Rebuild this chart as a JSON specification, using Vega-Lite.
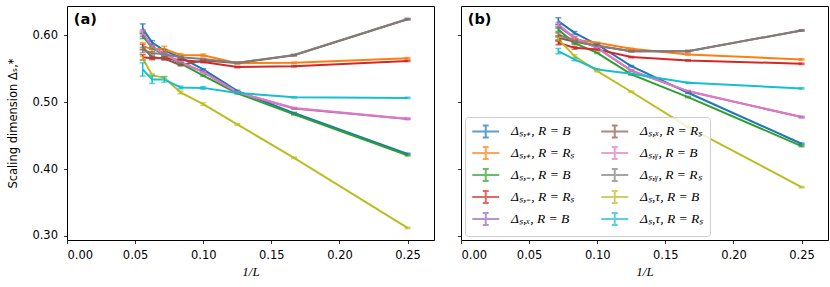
{
  "$schema": "https://vega.github.io/schema/vega-lite/v6.json",
  "padding": {"left": 7, "top": 5, "right": 2, "bottom": 3},
  "config": {
    "font": "DejaVu Sans",
    "view": {"stroke": "#000000", "strokeWidth": 1},
    "axis": {"grid": false, "domain": false, "tickColor": "#000000", "tickSize": 3.5, "tickWidth": 0.8, "labelColor": "#000000", "labelFontSize": 11.5, "labelFont": "DejaVu Sans", "labelPadding": 6, "titleColor": "#000000", "titleFontWeight": "normal"},
    "concat": {"spacing": 21}
  },
  "datasets": {
    "d": [
      {"p":"a","k":"pB","x":0.05556,"y":0.6098,"e":0.007},{"p":"a","k":"pB","x":0.0625,"y":0.5888,"e":0.003},{"p":"a","k":"pB","x":0.07143,"y":0.5768,"e":0.002},{"p":"a","k":"pB","x":0.08333,"y":0.5668,"e":0.0015},{"p":"a","k":"pB","x":0.1,"y":0.5488,"e":0.001},{"p":"a","k":"pB","x":0.125,"y":0.5167,"e":0.001},{"p":"a","k":"pB","x":0.16667,"y":0.4836,"e":0.001},{"p":"a","k":"pB","x":0.25,"y":0.4227,"e":0.001},
      {"p":"a","k":"pR","x":0.05556,"y":0.5838,"e":0.005},{"p":"a","k":"pR","x":0.0625,"y":0.5788,"e":0.003},{"p":"a","k":"pR","x":0.07143,"y":0.5793,"e":0.004},{"p":"a","k":"pR","x":0.08333,"y":0.5703,"e":0.002},{"p":"a","k":"pR","x":0.1,"y":0.5698,"e":0.002},{"p":"a","k":"pR","x":0.125,"y":0.558,"e":0.001},{"p":"a","k":"pR","x":0.16667,"y":0.5587,"e":0.001},{"p":"a","k":"pR","x":0.25,"y":0.5655,"e":0.001},
      {"p":"a","k":"mB","x":0.05556,"y":0.5988,"e":0.004},{"p":"a","k":"mB","x":0.0625,"y":0.581,"e":0.002},{"p":"a","k":"mB","x":0.07143,"y":0.5703,"e":0.002},{"p":"a","k":"mB","x":0.08333,"y":0.5578,"e":0.001},{"p":"a","k":"mB","x":0.1,"y":0.5395,"e":0.001},{"p":"a","k":"mB","x":0.125,"y":0.5132,"e":0.001},{"p":"a","k":"mB","x":0.16667,"y":0.4817,"e":0.001},{"p":"a","k":"mB","x":0.25,"y":0.4206,"e":0.001},
      {"p":"a","k":"mR","x":0.05556,"y":0.5668,"e":0.004},{"p":"a","k":"mR","x":0.0625,"y":0.5653,"e":0.002},{"p":"a","k":"mR","x":0.07143,"y":0.5653,"e":0.002},{"p":"a","k":"mR","x":0.08333,"y":0.5628,"e":0.001},{"p":"a","k":"mR","x":0.1,"y":0.5598,"e":0.001},{"p":"a","k":"mR","x":0.125,"y":0.5523,"e":0.001},{"p":"a","k":"mR","x":0.16667,"y":0.5535,"e":0.001},{"p":"a","k":"mR","x":0.25,"y":0.5615,"e":0.001},
      {"p":"a","k":"xB","x":0.05556,"y":0.602,"e":0.004},{"p":"a","k":"xB","x":0.0625,"y":0.583,"e":0.002},{"p":"a","k":"xB","x":0.07143,"y":0.5715,"e":0.002},{"p":"a","k":"xB","x":0.08333,"y":0.5595,"e":0.001},{"p":"a","k":"xB","x":0.1,"y":0.545,"e":0.001},{"p":"a","k":"xB","x":0.125,"y":0.5145,"e":0.001},{"p":"a","k":"xB","x":0.16667,"y":0.4905,"e":0.001},{"p":"a","k":"xB","x":0.25,"y":0.4748,"e":0.001},
      {"p":"a","k":"xR","x":0.05556,"y":0.5823,"e":0.004},{"p":"a","k":"xR","x":0.0625,"y":0.567,"e":0.002},{"p":"a","k":"xR","x":0.07143,"y":0.565,"e":0.002},{"p":"a","k":"xR","x":0.08333,"y":0.555,"e":0.001},{"p":"a","k":"xR","x":0.1,"y":0.562,"e":0.001},{"p":"a","k":"xR","x":0.125,"y":0.5585,"e":0.001},{"p":"a","k":"xR","x":0.16667,"y":0.57,"e":0.001},{"p":"a","k":"xR","x":0.25,"y":0.6238,"e":0.001},
      {"p":"a","k":"yB","x":0.05556,"y":0.6043,"e":0.004},{"p":"a","k":"yB","x":0.0625,"y":0.583,"e":0.002},{"p":"a","k":"yB","x":0.07143,"y":0.571,"e":0.002},{"p":"a","k":"yB","x":0.08333,"y":0.5598,"e":0.001},{"p":"a","k":"yB","x":0.1,"y":0.5447,"e":0.001},{"p":"a","k":"yB","x":0.125,"y":0.5147,"e":0.001},{"p":"a","k":"yB","x":0.16667,"y":0.4911,"e":0.001},{"p":"a","k":"yB","x":0.25,"y":0.4752,"e":0.001},
      {"p":"a","k":"yR","x":0.05556,"y":0.5778,"e":0.004},{"p":"a","k":"yR","x":0.0625,"y":0.5733,"e":0.002},{"p":"a","k":"yR","x":0.07143,"y":0.5715,"e":0.002},{"p":"a","k":"yR","x":0.08333,"y":0.5668,"e":0.001},{"p":"a","k":"yR","x":0.1,"y":0.5643,"e":0.001},{"p":"a","k":"yR","x":0.125,"y":0.5587,"e":0.001},{"p":"a","k":"yR","x":0.16667,"y":0.5703,"e":0.001},{"p":"a","k":"yR","x":0.25,"y":0.624,"e":0.001},
      {"p":"a","k":"tB","x":0.05556,"y":0.5653,"e":0.003},{"p":"a","k":"tB","x":0.0625,"y":0.5402,"e":0.002},{"p":"a","k":"tB","x":0.07143,"y":0.5362,"e":0.002},{"p":"a","k":"tB","x":0.08333,"y":0.5143,"e":0.002},{"p":"a","k":"tB","x":0.1,"y":0.497,"e":0.002},{"p":"a","k":"tB","x":0.125,"y":0.4667,"e":0.001},{"p":"a","k":"tB","x":0.16667,"y":0.4167,"e":0.001},{"p":"a","k":"tB","x":0.25,"y":0.312,"e":0.001},
      {"p":"a","k":"tR","x":0.05556,"y":0.5488,"e":0.01},{"p":"a","k":"tR","x":0.0625,"y":0.5338,"e":0.006},{"p":"a","k":"tR","x":0.07143,"y":0.5338,"e":0.004},{"p":"a","k":"tR","x":0.08333,"y":0.5218,"e":0.002},{"p":"a","k":"tR","x":0.1,"y":0.5212,"e":0.002},{"p":"a","k":"tR","x":0.125,"y":0.5137,"e":0.001},{"p":"a","k":"tR","x":0.16667,"y":0.5072,"e":0.001},{"p":"a","k":"tR","x":0.25,"y":0.5062,"e":0.001},
      {"p":"b","k":"pB","x":0.07143,"y":0.6209,"e":0.005},{"p":"b","k":"pB","x":0.08333,"y":0.6034,"e":0.002},{"p":"b","k":"pB","x":0.1,"y":0.586,"e":0.001},{"p":"b","k":"pB","x":0.125,"y":0.5537,"e":0.001},{"p":"b","k":"pB","x":0.16667,"y":0.5139,"e":0.001},{"p":"b","k":"pB","x":0.25,"y":0.4378,"e":0.001},
      {"p":"b","k":"pR","x":0.07143,"y":0.6,"e":0.003},{"p":"b","k":"pR","x":0.08333,"y":0.5936,"e":0.002},{"p":"b","k":"pR","x":0.1,"y":0.5885,"e":0.001},{"p":"b","k":"pR","x":0.125,"y":0.5796,"e":0.001},{"p":"b","k":"pR","x":0.16667,"y":0.5712,"e":0.001},{"p":"b","k":"pR","x":0.25,"y":0.5637,"e":0.001},
      {"p":"b","k":"mB","x":0.07143,"y":0.6085,"e":0.003},{"p":"b","k":"mB","x":0.08333,"y":0.588,"e":0.002},{"p":"b","k":"mB","x":0.1,"y":0.5736,"e":0.001},{"p":"b","k":"mB","x":0.125,"y":0.5413,"e":0.001},{"p":"b","k":"mB","x":0.16667,"y":0.5075,"e":0.001},{"p":"b","k":"mB","x":0.25,"y":0.4343,"e":0.001},
      {"p":"b","k":"mR","x":0.07143,"y":0.5885,"e":0.003},{"p":"b","k":"mR","x":0.08333,"y":0.581,"e":0.002},{"p":"b","k":"mR","x":0.1,"y":0.5786,"e":0.001},{"p":"b","k":"mR","x":0.125,"y":0.5672,"e":0.001},{"p":"b","k":"mR","x":0.16667,"y":0.5622,"e":0.001},{"p":"b","k":"mR","x":0.25,"y":0.5572,"e":0.001},
      {"p":"b","k":"xB","x":0.07143,"y":0.613,"e":0.003},{"p":"b","k":"xB","x":0.08333,"y":0.596,"e":0.002},{"p":"b","k":"xB","x":0.1,"y":0.581,"e":0.001},{"p":"b","k":"xB","x":0.125,"y":0.547,"e":0.001},{"p":"b","k":"xB","x":0.16667,"y":0.516,"e":0.001},{"p":"b","k":"xB","x":0.25,"y":0.4776,"e":0.001},
      {"p":"b","k":"xR","x":0.07143,"y":0.596,"e":0.003},{"p":"b","k":"xR","x":0.08333,"y":0.59,"e":0.002},{"p":"b","k":"xR","x":0.1,"y":0.584,"e":0.001},{"p":"b","k":"xR","x":0.125,"y":0.5761,"e":0.001},{"p":"b","k":"xR","x":0.16667,"y":0.5761,"e":0.001},{"p":"b","k":"xR","x":0.25,"y":0.607,"e":0.001},
      {"p":"b","k":"yB","x":0.07143,"y":0.616,"e":0.003},{"p":"b","k":"yB","x":0.08333,"y":0.596,"e":0.002},{"p":"b","k":"yB","x":0.1,"y":0.581,"e":0.001},{"p":"b","k":"yB","x":0.125,"y":0.5472,"e":0.001},{"p":"b","k":"yB","x":0.16667,"y":0.5164,"e":0.001},{"p":"b","k":"yB","x":0.25,"y":0.4776,"e":0.001},
      {"p":"b","k":"yR","x":0.07143,"y":0.601,"e":0.003},{"p":"b","k":"yR","x":0.08333,"y":0.591,"e":0.002},{"p":"b","k":"yR","x":0.1,"y":0.584,"e":0.001},{"p":"b","k":"yR","x":0.125,"y":0.5761,"e":0.001},{"p":"b","k":"yR","x":0.16667,"y":0.5761,"e":0.001},{"p":"b","k":"yR","x":0.25,"y":0.607,"e":0.001},
      {"p":"b","k":"tB","x":0.07143,"y":0.594,"e":0.003},{"p":"b","k":"tB","x":0.08333,"y":0.5687,"e":0.002},{"p":"b","k":"tB","x":0.1,"y":0.5463,"e":0.001},{"p":"b","k":"tB","x":0.125,"y":0.5154,"e":0.001},{"p":"b","k":"tB","x":0.16667,"y":0.4627,"e":0.001},{"p":"b","k":"tB","x":0.25,"y":0.373,"e":0.001},
      {"p":"b","k":"tR","x":0.07143,"y":0.5761,"e":0.004},{"p":"b","k":"tR","x":0.08333,"y":0.5637,"e":0.002},{"p":"b","k":"tR","x":0.1,"y":0.5488,"e":0.001},{"p":"b","k":"tR","x":0.125,"y":0.5422,"e":0.001},{"p":"b","k":"tR","x":0.16667,"y":0.5288,"e":0.001},{"p":"b","k":"tR","x":0.25,"y":0.5204,"e":0.001}
    ]
  },
  "resolve": {"scale": {"color": "shared", "y": "shared", "x": "independent"}, "legend": {"color": "independent"}},
  "hconcat": [
    {
      "width": 367, "height": 234,
      "layer": [
        {
          "data": {"name": "d"},
          "transform": [{"filter": "datum.p == 'a'"}],
          "mark": {"type": "line", "strokeWidth": 2},
          "encoding": {
            "x": {"field": "x", "type": "quantitative", "title": "1/L", "scale": {"domain": [0, 0.2694], "nice": false, "zero": false}, "axis": {"values": [0, 0.05, 0.1, 0.15, 0.2, 0.25], "format": ".2f", "titleFont": "Liberation Serif", "titleFontStyle": "italic", "titleFontSize": 13, "titlePadding": 4}},
            "y": {"field": "y", "type": "quantitative", "title": "Scaling dimension Δₛ,*", "scale": {"domain": [0.294, 0.6435], "nice": false, "zero": false}, "axis": {"values": [0.3, 0.35, 0.4, 0.45, 0.5, 0.55, 0.6], "format": ".2f", "titleFontSize": 11.5, "titlePadding": 13}},
            "color": {"field": "k", "type": "nominal", "scale": {"domain": ["pB","pR","mB","mR","xB","xR","yB","yR","tB","tR"], "range": ["#1f77b4","#ff7f0e","#2ca02c","#d62728","#9467bd","#8c564b","#e377c2","#7f7f7f","#bcbd22","#17becf"]}, "legend": null}
          }
        },
        {
          "data": {"name": "d"},
          "transform": [{"filter": "datum.p == 'a'"}],
          "mark": {"type": "errorbar", "ticks": true, "size": 6, "thickness": 1.5},
          "encoding": {
            "x": {"field": "x", "type": "quantitative", "title": "1/L"},
            "y": {"field": "y", "type": "quantitative", "title": "Scaling dimension Δₛ,*"},
            "yError": {"field": "e"},
            "color": {"field": "k", "type": "nominal", "legend": null}
          }
        },
        {
          "data": {"values": [{"t": "(a)"}]},
          "mark": {"type": "text", "fontWeight": "bold", "fontSize": 14.5, "align": "left", "baseline": "middle", "font": "DejaVu Sans"},
          "encoding": {
            "x": {"datum": 0.005, "type": "quantitative"},
            "y": {"datum": 0.623, "type": "quantitative"},
            "text": {"field": "t"}
          }
        }
      ]
    },
    {
      "width": 367, "height": 234,
      "layer": [
        {
          "data": {"name": "d"},
          "transform": [{"filter": "datum.p == 'b'"}],
          "mark": {"type": "line", "strokeWidth": 2},
          "encoding": {
            "x": {"field": "x", "type": "quantitative", "title": "1/L", "scale": {"domain": [0, 0.2694], "nice": false, "zero": false}, "axis": {"values": [0, 0.05, 0.1, 0.15, 0.2, 0.25], "format": ".2f", "titleFont": "Liberation Serif", "titleFontStyle": "italic", "titleFontSize": 13, "titlePadding": 4}},
            "y": {"field": "y", "type": "quantitative", "title": null, "axis": {"values": [0.3, 0.35, 0.4, 0.45, 0.5, 0.55, 0.6], "labels": false}},
            "color": {"field": "k", "type": "nominal", "legend": {
              "orient": "bottom-left", "offset": 4, "columns": 2, "title": null,
              "symbolType": "M-1,0H3M1,-0.89V0.89M0.56,-0.89H1.44M0.56,0.89H1.44",
              "symbolSize": 182, "symbolStrokeWidth": 2, "symbolOpacity": 1,
              "labelFont": "Liberation Serif", "labelFontStyle": "italic", "labelFontSize": 13.5, "labelColor": "#000000", "labelLimit": 300,
              "labelExpr": "{'pB':'Δₛ,₊, R = B','pR':'Δₛ,₊, R = Rₛ','mB':'Δₛ,₋, R = B','mR':'Δₛ,₋, R = Rₛ','xB':'Δₛ,ₓ, R = B','xR':'Δₛ,ₓ, R = Rₛ','yB':'Δₛ,ᵧ, R = B','yR':'Δₛ,ᵧ, R = Rₛ','tB':'Δₛ,τ, R = B','tR':'Δₛ,τ, R = Rₛ'}[datum.value]",
              "labelOffset": 24, "columnPadding": 22, "rowPadding": 0, "padding": 6,
              "fillColor": "rgba(255,255,255,0.8)", "strokeColor": "#cccccc", "cornerRadius": 3
            }}
          }
        },
        {
          "data": {"name": "d"},
          "transform": [{"filter": "datum.p == 'b'"}],
          "mark": {"type": "errorbar", "ticks": true, "size": 6, "thickness": 1.5},
          "encoding": {
            "x": {"field": "x", "type": "quantitative", "title": "1/L"},
            "y": {"field": "y", "type": "quantitative", "title": null},
            "yError": {"field": "e"},
            "color": {"field": "k", "type": "nominal"}
          }
        },
        {
          "data": {"values": [{"t": "(b)"}]},
          "mark": {"type": "text", "fontWeight": "bold", "fontSize": 14.5, "align": "left", "baseline": "middle", "font": "DejaVu Sans"},
          "encoding": {
            "x": {"datum": 0.005, "type": "quantitative"},
            "y": {"datum": 0.623, "type": "quantitative"},
            "text": {"field": "t"}
          }
        }
      ]
    }
  ]
}
